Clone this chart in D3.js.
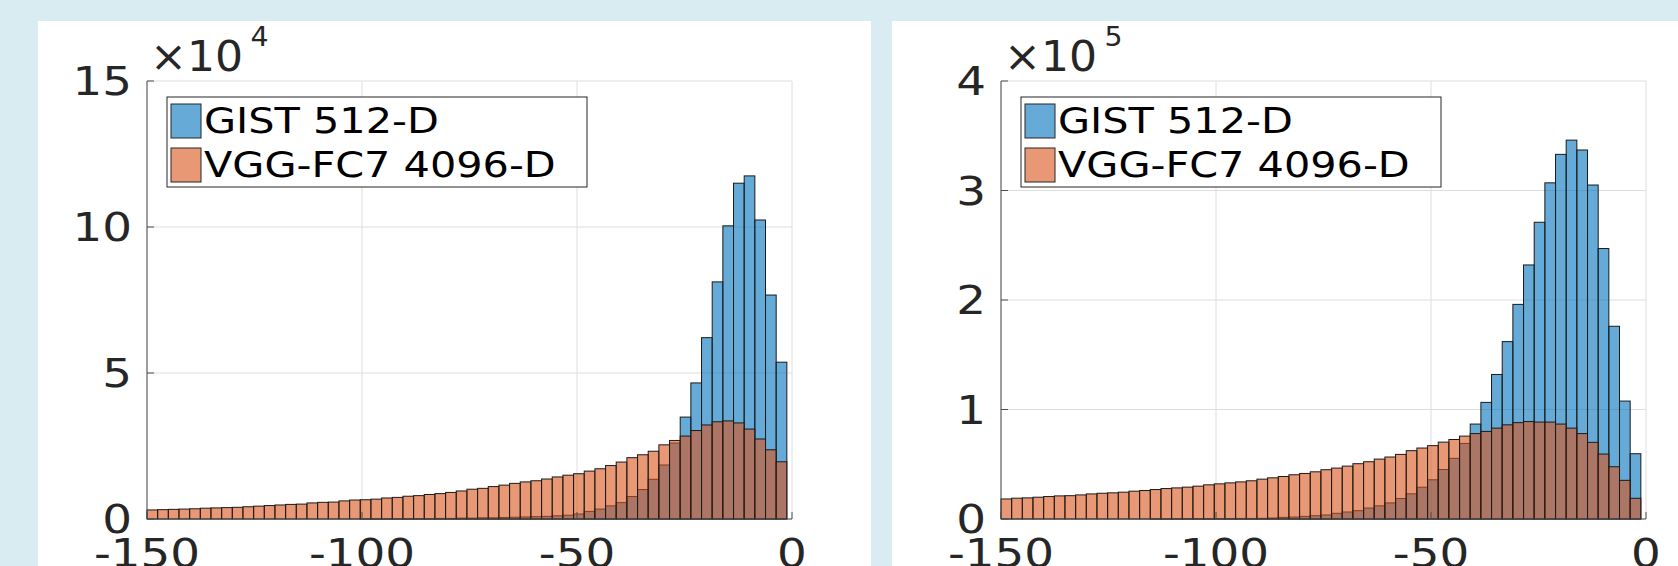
<!DOCTYPE html>
<html>
<head>
<meta charset="utf-8">
<script src="https://cdn.jsdelivr.net/npm/d3@7/dist/d3.min.js"></script>
<style>
  body { margin: 0; background: #d9ecf2; }
  svg text { font-family: "DejaVu Sans", sans-serif; fill: #262626; }
</style>
</head>
<body>
<div id="chart"></div>
<script>
// histogram bins (shared by both panels)
const binStart = -150, binWidth = 2.48

const xTicks = [-150, -100, -50, 0]
const seriesNames = ["GIST 512-D", "VGG-FC7 4096-D"]

// left panel, counts in units of 10^4
const leftYTicks = [0, 5, 10, 15]
const leftGist = [
  0, 0, 0, 0, 0, 0, 0, 0, 0, 0,
  0, 0, 0, 0, 0, 0, 0, 0, 0, 0,
  0.005, 0.005, 0.005, 0.005, 0.005, 0.01, 0.01, 0.02, 0.02, 0.03,
  0.03, 0.04, 0.04, 0.05, 0.06, 0.07, 0.08, 0.09, 0.11, 0.13,
  0.17, 0.26, 0.34, 0.45, 0.56, 0.77, 1.01, 1.36, 1.85, 2.60,
  3.49, 4.66, 6.21, 8.12, 10.04, 11.5, 11.75, 10.24, 7.67, 5.37
]
const leftVgg = [
  0.31, 0.32, 0.33, 0.34, 0.35, 0.37, 0.38, 0.39, 0.40, 0.42,
  0.44, 0.46, 0.48, 0.50, 0.51, 0.55, 0.57, 0.58, 0.62, 0.65,
  0.66, 0.68, 0.72, 0.74, 0.78, 0.80, 0.84, 0.87, 0.91, 0.96,
  1.02, 1.05, 1.11, 1.16, 1.22, 1.27, 1.31, 1.37, 1.44, 1.50,
  1.55, 1.64, 1.72, 1.83, 1.95, 2.10, 2.20, 2.32, 2.54, 2.69,
  2.84, 3.03, 3.22, 3.33, 3.36, 3.29, 3.08, 2.74, 2.37, 1.96
]

// right panel, counts in units of 10^5
const rightYTicks = [0, 1, 2, 3, 4]
const rightGist = [
  0, 0, 0, 0, 0, 0, 0, 0, 0, 0,
  0, 0, 0, 0, 0.001, 0.001, 0.002, 0.002, 0.003, 0.003,
  0.004, 0.004, 0.005, 0.005, 0.006, 0.009, 0.015, 0.018, 0.024, 0.03,
  0.037, 0.052, 0.064, 0.076, 0.10, 0.12, 0.147, 0.187, 0.23, 0.29,
  0.358, 0.452, 0.554, 0.69, 0.867, 1.065, 1.32, 1.62, 1.96, 2.32,
  2.71, 3.07, 3.33, 3.46, 3.37, 3.05, 2.47, 1.76, 1.077, 0.596
]
const rightVgg = [
  0.183, 0.190, 0.193, 0.199, 0.205, 0.211, 0.213, 0.220, 0.229, 0.235,
  0.239, 0.245, 0.254, 0.260, 0.269, 0.278, 0.284, 0.291, 0.300, 0.312,
  0.321, 0.330, 0.339, 0.349, 0.364, 0.376, 0.388, 0.404, 0.416, 0.431,
  0.450, 0.465, 0.483, 0.505, 0.523, 0.547, 0.566, 0.590, 0.624, 0.648,
  0.670, 0.702, 0.726, 0.757, 0.78, 0.80, 0.83, 0.86, 0.88, 0.89,
  0.885, 0.885, 0.867, 0.83, 0.78, 0.70, 0.593, 0.477, 0.353, 0.189
]

const colors = ["#0072BD", "#D95319"]
const stretch = 1.2   // the figure text is drawn wider than normal

const W = 1678, H = 566
const svg = d3.select("#chart").append("svg")
  .attr("width", W)
  .attr("height", H)

svg.append("rect").attr("width", W).attr("height", H).attr("fill", "#d9ecf2")

function drawPanel(px, yTicks, exponent, gist, vgg) {
  let g = svg.append("g").attr("transform", `translate(${px},21)`)

  g.append("rect")
    .attr("width", px < 500 ? 833 : W - px)
    .attr("height", H)
    .attr("fill", "#fff")

  let plot = {left: 109, top: 60, width: 645, height: 438}

  let x = d3.scaleLinear().domain([-150, 0]).range([plot.left, plot.left + plot.width])
  let y = d3.scaleLinear().domain([0, yTicks[yTicks.length - 1]])
    .range([plot.top + plot.height, plot.top])

  // grid
  g.selectAll("line.gx").data(xTicks).enter().append("line")
    .attr("x1", d => x(d)).attr("x2", d => x(d))
    .attr("y1", y.range()[0]).attr("y2", y.range()[1])
    .attr("stroke", "#dedede").attr("stroke-width", 1)
  g.selectAll("line.gy").data(yTicks).enter().append("line")
    .attr("x1", x.range()[0]).attr("x2", x.range()[1])
    .attr("y1", d => y(d)).attr("y2", d => y(d))
    .attr("stroke", "#dedede").attr("stroke-width", 1)

  // bars: GIST first, VGG on top
  ;[gist, vgg].forEach((vals, s) => {
    g.selectAll("rect.s" + s).data(vals).enter().append("rect")
      .attr("class", "s" + s)
      .attr("x", (d, i) => x(binStart + i * binWidth))
      .attr("width", x(binStart + binWidth) - x(binStart))
      .attr("y", d => y(d))
      .attr("height", d => y(0) - y(d))
      .attr("fill", colors[s])
      .attr("fill-opacity", 0.6)
      .attr("stroke", "#1a1a1a")
      .attr("stroke-width", 1)
  })

  // axis lines and inward ticks
  g.append("line")
    .attr("x1", x(-150)).attr("x2", x(-150))
    .attr("y1", y.range()[0]).attr("y2", y.range()[1])
    .attr("stroke", "#4d4d4d")
  g.append("line")
    .attr("x1", x.range()[0]).attr("x2", x.range()[1])
    .attr("y1", y(0)).attr("y2", y(0))
    .attr("stroke", "#4d4d4d")
  g.selectAll("line.ty").data(yTicks).enter().append("line")
    .attr("x1", x(-150)).attr("x2", x(-150) + 7)
    .attr("y1", d => y(d)).attr("y2", d => y(d))
    .attr("stroke", "#4d4d4d")
  g.selectAll("line.tx").data(xTicks).enter().append("line")
    .attr("x1", d => x(d)).attr("x2", d => x(d))
    .attr("y1", y(0)).attr("y2", y(0) - 7)
    .attr("stroke", "#4d4d4d")

  // tick labels
  g.selectAll("text.ly").data(yTicks).enter().append("text")
    .attr("transform", d => `translate(${x(-150) - 15},${y(d) + 14}) scale(${stretch},1)`)
    .attr("text-anchor", "end")
    .style("font-size", "39px")
    .text(d => d)
  g.selectAll("text.lx").data(xTicks).enter().append("text")
    .attr("transform", d => `translate(${x(d)},${y(0) + 48}) scale(${stretch},1)`)
    .attr("text-anchor", "middle")
    .style("font-size", "39px")
    .text(d => d)

  // exponent label
  let ex = g.append("text")
    .attr("transform", `translate(${x(-150) + 3},${plot.top - 10}) scale(1.05,1)`)
    .style("font-size", "42px")
  ex.append("tspan").text("×10")
  ex.append("tspan").attr("dx", 7).attr("dy", -25).style("font-size", "27px").text(exponent)

  // legend
  let lg = g.append("g").attr("transform", `translate(${plot.left + 20},${plot.top + 16})`)
  lg.append("rect")
    .attr("width", 420).attr("height", 90)
    .attr("fill", "#fff").attr("stroke", "#262626").attr("stroke-width", 1)
  seriesNames.forEach((name, i) => {
    lg.append("rect")
      .attr("x", 4).attr("y", 7 + i * 44)
      .attr("width", 30).attr("height", 34)
      .attr("fill", colors[i]).attr("fill-opacity", 0.6)
      .attr("stroke", "#262626").attr("stroke-width", 1)
    lg.append("text")
      .attr("transform", `translate(37,${36 + i * 44}) scale(1.15,1)`)
      .style("font-size", "36px")
      .style("fill", "#000")
      .text(name)
  })
}

drawPanel(38, leftYTicks, "4", leftGist, leftVgg)
drawPanel(892, rightYTicks, "5", rightGist, rightVgg)
</script>
</body>
</html>
